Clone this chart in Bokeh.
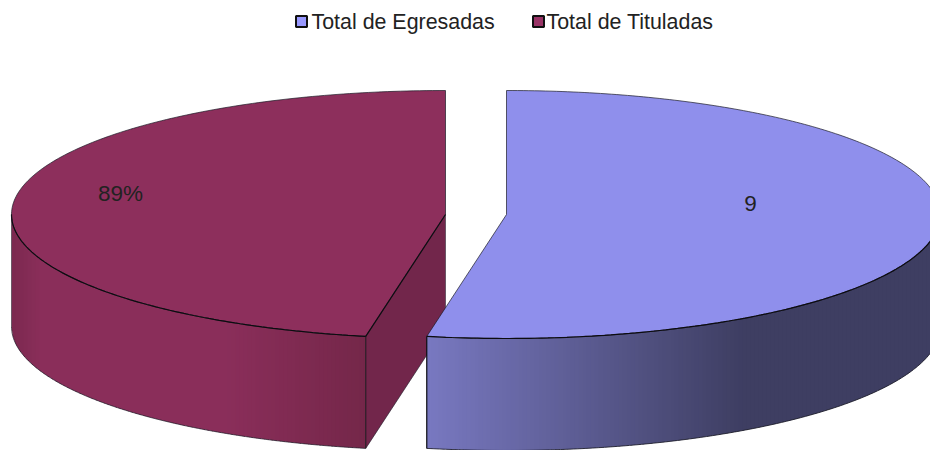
import numpy as np
from bokeh.plotting import figure
from bokeh.models import Range1d
from bokeh.embed import file_html
from bokeh.resources import INLINE
from bokeh.core.properties import value

categories = ["Total de Egresadas", "Total de Tituladas"]
values = [9, 8]
labels = ["9", "89%"]
top_colors = ["#8F8FEC", "#8D2F5C"]
legend_colors = ["#9999FF", "#993366"]

W, H = 930, 450
RX, RY, DEPTH = 434, 124, 112
CY = 214
CX = [506, 445]
FONT = "Liberation Sans"
EDGE = "#1c1c28"

def lerp(a, b, t):
    a = np.array([int(a[i:i+2], 16) for i in (1, 3, 5)], float)
    b = np.array([int(b[i:i+2], 16) for i in (1, 3, 5)], float)
    c = a + (b - a) * min(max(t, 0), 1)
    return "#%02x%02x%02x" % tuple(int(round(v)) for v in c)

p = figure(width=W, height=H, output_backend="svg", toolbar_location=None,
           x_range=Range1d(0, W), y_range=Range1d(H, 0),
           min_border=0, outline_line_color=None)
p.axis.visible = False
p.grid.visible = False
p.background_fill_color = "white"

total = sum(values)
split = 2 * np.pi * values[0] / total  # clockwise from 12 o'clock

def pt(cx, a, dy=0):
    return cx + RX * np.sin(a), CY - RY * np.cos(a) + dy

def front_y(cx, x):
    return CY + RY * np.sqrt(np.clip(1 - ((x - cx) / RX) ** 2, 0, 1))

def wall(cx, x0, x1, color_at):
    # front wall as overlapping vertical strips, painted left to right
    edges = np.append(np.arange(x0, x1, 4.0), x1)
    for i in range(len(edges) - 1):
        sx = np.linspace(edges[i], min(edges[i + 1] + 1.5, x1), 6)
        sy = front_y(cx, sx)
        p.patch(list(sx) + list(sx[::-1]), list(sy) + list((sy + DEPTH)[::-1]),
                fill_color=color_at(edges[i]), line_color=None)

# ----- maroon slice (drawn first, blue overlaps it)
cx = CX[1]
fx, fy = pt(cx, split)
xl = cx - RX

def maroon(x):
    t = (x - xl) / (fx - xl)
    if t < 0.08:
        return lerp("#7c2950", "#8a2e5a", t / 0.08)
    if t < 0.6:
        return "#8a2e5a"
    return lerp("#8a2e5a", "#742749", (t - 0.6) / 0.4)

wall(cx, xl, fx, maroon)
p.patch([cx, fx, fx, cx], [CY, fy, fy + DEPTH, CY + DEPTH], fill_color="#72264B", line_color=None)
aa = np.linspace(split, 2 * np.pi, 200)
xs, ys = pt(cx, aa)
p.patch(list(xs) + [cx], list(ys) + [CY], fill_color=top_colors[1], line_color=EDGE, line_width=1, line_alpha=.7)
aa = np.linspace(1.5 * np.pi, split, 100)
xs, ys = pt(cx, aa)
p.line(xs, ys, line_color="#0c0c10", line_width=1.2)
p.line([cx, fx], [CY, fy], line_color="#0c0c10", line_width=1.2)
xs, ys = pt(cx, aa, DEPTH)
p.line(xs, ys, line_color=EDGE, line_width=1, line_alpha=.7)
p.line([xl, xl], [CY, CY + DEPTH], line_color=EDGE, line_width=1, line_alpha=.5)
p.line([fx, fx], [fy, fy + DEPTH], line_color="#0c0c10", line_width=1, line_alpha=.9)
p.line([fx, cx], [fy + DEPTH, CY + DEPTH], line_color=EDGE, line_width=1, line_alpha=.6)
p.line([cx, cx], [CY, CY + DEPTH], line_color=EDGE, line_width=1, line_alpha=.5)

# ----- blue slice
cx = CX[0]
fx, fy = pt(cx, split)

def blue(x):
    return lerp("#7878C0", "#3E3E62", (x - fx) / (740 - fx))

wall(cx, fx, cx + RX, blue)
aa = np.linspace(0, split, 260)
xs, ys = pt(cx, aa)
p.patch(list(xs) + [cx], list(ys) + [CY], fill_color=top_colors[0], line_color=EDGE, line_width=1, line_alpha=.7)
aa = np.linspace(split, 0.5 * np.pi, 120)
xs, ys = pt(cx, aa)
p.line(xs, ys, line_color="#0c0c10", line_width=1.2)
xs, ys = pt(cx, aa, DEPTH)
p.line(xs, ys, line_color=EDGE, line_width=1, line_alpha=.85)
p.line([fx, fx], [fy, fy + DEPTH], line_color="#0c0c10", line_width=1.2)

# ----- data labels
p.text([750, 120], [203, 193], text=labels, text_font=value(FONT), text_font_size="22.5px",
       text_color="#222222", text_align="center", text_baseline="middle")

# ----- legend
p.rect([301, 538], [21, 21], width=11, height=11, fill_color=legend_colors, line_color="#111111", line_width=2)
p.text([311, 546], [21, 21], text=categories, text_font=value(FONT), text_font_size="21.4px",
       text_color="#222222", text_align="left", text_baseline="middle")

open("out.html", "w").write(file_html(p, INLINE))
